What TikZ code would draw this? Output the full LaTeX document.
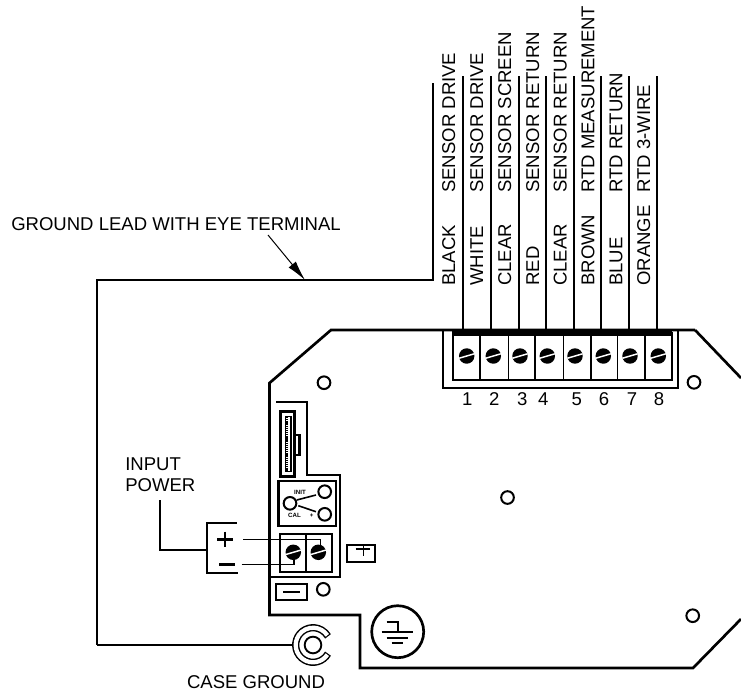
\documentclass[tikz,border=0pt]{standalone}
\usepackage{fontspec}
\setmainfont{Liberation Sans}
\usetikzlibrary{arrows.meta}
\tikzset{
  board/.style={line width=2pt,line join=miter},
  wire/.style={line width=1.7pt},
  hole/.style={circle,draw,line width=1.5pt,minimum size=9.5pt,inner sep=0pt},
  lab/.style={inner sep=0pt,font=\fontsize{13.9}{15.75}\selectfont},
  vlab/.style={lab,rotate=90,anchor=base west},
  num/.style={lab,anchor=base},
  tiny/.style={inner sep=0pt,font=\fontsize{4.6}{5}\selectfont\bfseries},
}
\newcommand{\screw}[2]{%
  \fill (#1,#2) circle[radius=5.8pt];
  \draw[white,line width=1.1pt] (#1-7.5,#2+2.2) -- (#1+7.5,#2-2.2);
}
\begin{document}
\begin{tikzpicture}[x=0.75pt,y=-0.75pt]
\useasboundingbox (0,0) rectangle (741,690);
% ground lead
\coordinate (gtop) at (433,83);
\coordinate (gc1) at (433,280);
\coordinate (gc2) at (97,280);
\coordinate (gc3) at (97,645);
\node[circle,minimum size=12.5pt,inner sep=0pt,draw,line width=1.4pt] (ring) at (313,645) {};
\coordinate (ringout) at (294,645);
\draw[line width=1.8pt] (gtop) -- (gc1) -- (gc2) -- (gc3);
\draw[line width=1.4pt] (gc3) -- (ringout);
\draw[line width=5.4pt] (ring.center) ++(30:17.3) arc[start angle=30,end angle=330,radius=17.3];
\draw[line width=3.2pt,white] (ring.center) ++(34:17.3) arc[start angle=34,end angle=326,radius=17.3];
% ground lead label
\node[lab,anchor=base west] (gl) at (11,230) {GROUND LEAD WITH EYE TERMINAL};
\coordinate (ga) at (268,235);
\coordinate (gb) at (305,280);
\draw[line width=0.75pt,-{Latex[length=15pt,width=7pt]}] (ga) -- (gb);
% board outline
\draw[board] (695,330) -- (331,330) -- (269.5,383) -- (269.5,615) -- (360,615) -- (360,668) -- (693,668) -- (741,619);
\draw[board] (695,330) -- (741,378);
% inner line
\draw[line width=1.6pt] (276,402) -- (307.3,402) -- (307.3,475) -- (340,475) -- (340,577) -- (270,577);
% connector
\draw[line width=2.4pt,fill=white] (280.7,411.7) rectangle (294.3,476.7);
\draw[line width=1.8pt] (294.3,435) -- (299.3,435) -- (299.3,455) -- (294.3,455);
\draw[line width=0.8pt,fill=white] (285.5,416.7) rectangle (291,471.7);
\draw[line width=2.2pt,dash pattern=on 1pt off 0.6pt] (287,417) -- (287,471);
% switch box
\draw[line width=1.8pt] (278.3,480.7) rectangle (336,525.7);
\node[hole] (sw0) at (290,503.3) {};
\node[hole] (sw1) at (324.7,491.7) {};
\node[hole] (sw2) at (324.7,514.3) {};
\coordinate (sa) at (296.7,500); \coordinate (sb) at (316,495);
\coordinate (sc) at (298.3,505.7); \coordinate (sd) at (316,511.7);
\draw[line width=1.2pt] (sa) -- (sb) (sc) -- (sd);
\node[tiny] (tinit) at (300,492.3) {INIT};
\node[tiny] (tcal) at (294.5,515.5) {CAL};
\node[tiny] (tplus) at (311.7,515.5) {+};
% power terminal
\draw[line width=1.8pt] (280,534) rectangle (331.7,571.7);
\draw[line width=1.2pt] (306,534) -- (306,571.7);
\screw{293.3}{552.3}
\screw{318.3}{552.3}
% input bracket
\draw[line width=1.4pt] (236.7,523.3) -- (207.3,523.3) -- (207.3,572.7) -- (238.3,572.7);
\coordinate (pw) at (160,500); \coordinate (pb) at (160,550); \coordinate (pc) at (207.3,550);
\draw[line width=1.4pt] (pw) -- (pb) -- (pc);
\node[inner sep=0pt] (plussign) at (225,539.3) {};
\draw[line width=2pt] (217,539.3) -- (233,539.3) (225,531.5) -- (225,547);
\node[inner sep=0pt] (minussign) at (226.5,564.3) {};
\draw[line width=2pt] (219,564.3) -- (234.5,564.3);
\draw[line width=1.1pt] (243.3,539.3) -- (320.7,539.3) -- (320.7,546);
\draw[line width=1.1pt] (241.7,564.3) -- (294,564.3) -- (294,559);
% polarity boxes
\draw[line width=1.3pt] (346.7,545) rectangle (375,561.7);
\draw[line width=1.1pt] (355.7,549) -- (370,549) (363.3,545) -- (363.3,555.7);
\draw[line width=1.6pt] (276,584) rectangle (306.7,600);
\draw[line width=1.2pt] (283,591.7) -- (300,591.7);
\node[hole] (h0) at (323.3,589.3) {};
% holes
\node[hole] (h1) at (324,382.7) {};
\node[hole] (h2) at (694,382.3) {};
\node[hole] (h3) at (507.5,497.5) {};
\node[hole] (h4) at (692.7,615.7) {};
% earth symbol
\draw[line width=2pt] (397.7,631.7) circle[radius=26];
\draw[line width=1.5pt] (381.7,631.7) -- (413.3,631.7) (386.7,622.3) -- (398.3,622.3) -- (398.3,631.7)
  (386.7,637.7) -- (408,637.7) (391.7,643) -- (403,643);
% terminal strip
\draw[line width=1.6pt] (443.3,330) -- (443.3,388.3) -- (678.3,388.3) -- (678.3,330);
\draw[line width=1.6pt] (452.7,332) -- (452.7,380) -- (671.7,380) -- (671.7,332);
\fill (452,329.3) rectangle (672.4,335.5);
\foreach \x in {480,508.3,535,563.3,591,617.7,645}
  \draw[line width=1pt] (\x,334) -- (\x,380);
\foreach \x in {466.7,493.3,520,547.3,575,603.3,630,658.3}
  {\screw{\x}{356}}
\foreach \x/\t in {467.3/1,494.3/2,522.3/3,543.3/4,576.7/5,604/6,632/7,659/8}
  \node[num] (n\t) at (\x,405) {\t};
% wires
\foreach \x [count=\i] in {463,491,519,546,574,601,629,657}{
  \coordinate (wt\i) at (\x,76);
  \coordinate (wb\i) at (\x,330);
  \draw[wire] (wt\i) -- (wb\i);
}
% wire labels
\foreach \x/\a/\b [count=\i] in {455/BLACK/SENSOR DRIVE,483/WHITE/SENSOR DRIVE,511/CLEAR/SENSOR SCREEN,539/RED/SENSOR RETURN,566.7/CLEAR/SENSOR RETURN,594.3/BROWN/RTD MEASUREMENT,622.3/BLUE/RTD RETURN,650/ORANGE/RTD 3-WIRE}{
  \node[vlab] (ca\i) at (\x,286) {\a};
  \node[vlab] (fn\i) at (\x,193) {\b};
}
\node[lab,anchor=base west] (ip1) at (125,470.7) {INPUT};
\node[lab,anchor=base west] (ip2) at (125,491.7) {POWER};
\node[lab,anchor=base] (cg) at (256,688) {CASE GROUND};
\end{tikzpicture}
\end{document}
